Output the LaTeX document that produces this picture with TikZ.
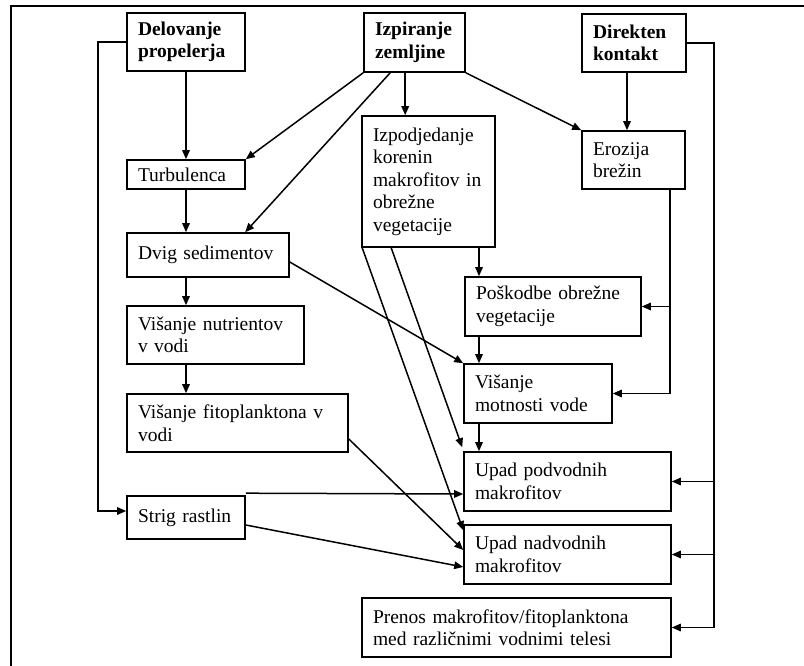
\documentclass[tikz,border=0pt]{standalone}
\usepackage{fontspec}
\setmainfont{Liberation Serif}
\usetikzlibrary{arrows.meta,calc}
\begin{document}
\begin{tikzpicture}[x=1pt,y=-1pt,
  box/.style={draw, line width=1.6pt, inner xsep=11pt, inner ysep=0pt, align=left,
    font=\fontsize{19.5}{22.5}\selectfont},
  arr/.style={line width=1.5pt, -{Triangle[length=9pt,width=7.5pt]}}]
\useasboundingbox (0,0) rectangle (804,666);
\draw[line width=2.5pt] (11,666) -- (11,6) -- (804,6);

\node[box, text width=96pt, minimum height=58pt] (del) at (186,42) {\textbf{Delovanje}\\\textbf{propelerja}};
\node[box, text width=79pt, minimum height=59pt] (izp) at (414.5,42.5) {\textbf{Izpiranje}\\\textbf{zemljine}};
\node[box, text width=82pt, minimum height=58pt] (dir) at (634,43) {\textbf{Direkten}\\\textbf{kontakt}};
\node[box, text width=96pt, minimum height=29pt] (tur) at (186,174.5) {Turbulenca};
\node[box, text width=140pt, minimum height=44pt] (dvig) at (208,255) {Dvig~sedimentov};
\node[box, text width=111pt, minimum height=131pt] (izpod) at (428.5,181.5) {Izpodjedanje\\korenin\\makrofitov~in\\obrežne\\vegetacije};
\node[box, text width=81pt, minimum height=58pt] (ero) at (633.5,160) {Erozija\\brežin};
\node[box, text width=154pt, minimum height=59pt] (posk) at (553,306.5) {Poškodbe~obrežne\\vegetacije};
\node[box, text width=155pt, minimum height=58pt] (nutr) at (215.5,335) {Višanje~nutrientov\\v~vodi};
\node[box, text width=199pt, minimum height=58pt] (fito) at (237.5,423) {Višanje~fitoplanktona~v\\vodi};
\node[box, text width=126pt, minimum height=59pt] (motn) at (538,393.5) {Višanje\\motnosti~vode};
\node[box, text width=185pt, minimum height=59pt] (podv) at (567.5,481.5) {Upad~podvodnih\\makrofitov};
\node[box, text width=96pt, minimum height=43pt] (strig) at (186,517.5) {Strig~rastlin};
\node[box, text width=185pt, minimum height=59pt] (nadv) at (567.5,554.5) {Upad~nadvodnih\\makrofitov};
\node[box, text width=287pt, minimum height=59pt] (pren) at (516.5,627.5) {Prenos~makrofitov/fitoplanktona\\med~različnimi~vodnimi~telesi};

\draw[arr] (del.south) -- (tur.north);
\draw[arr] (tur.south) -- (dvig.north -| tur.south);
\draw[arr] (dvig.south -| tur.south) -- (nutr.north -| tur.south);
\draw[arr] (nutr.south -| tur.south) -- (fito.north -| tur.south);
\draw[arr] (izp.south west) -- (tur.north east);
\draw[arr] ($(izp.south west)+(27,0)$) -- ($(dvig.north west)+(119,0)$);
\draw[arr] ($(izp.south west)+(42,0)$) -- ($(izpod.north west)+(44,0)$);
\draw[arr] (izp.south east) -- (ero.north west);
\draw[arr] ($(dir.south)+(-7,0)$) -- ($(ero.north)+(-6.5,0)$);

\coordinate (lx) at (98,511);
\draw[arr] (del.west) -| (lx) -- (lx -| strig.west);

\coordinate (rb) at (714,627.5);
\draw[arr] (dir.east) -| (rb) -- (pren.east);
\draw[arr] (podv.east -| rb) -- (podv.east);
\draw[arr] (nadv.east -| rb) -- (nadv.east);

\coordinate (eb) at (670,393.5);
\draw[arr] (ero.south -| eb) -- (eb) -- (motn.east);
\draw[arr] (posk.east -| eb) -- (posk.east);

\coordinate (cx) at (479,0);
\draw[arr] (izpod.south -| cx) -- (posk.north -| cx);
\draw[arr] (posk.south -| cx) -- (motn.north -| cx);
\draw[arr] (motn.south -| cx) -- (podv.north -| cx);

\draw[arr] ($(dvig.east)+(0,7)$) -- (motn.north west);
\draw[arr] ($(fito.east)+(0,16)$) -- ($(nadv.west)+(0,-4.5)$);
\draw[arr] ($(strig.north east)+(0,-2)$) -- ($(podv.west)+(0,12.5)$);
\draw[arr] ($(strig.east)+(0,7.5)$) -- ($(nadv.west)+(0,12.5)$);
\draw[arr] ($(izpod.south west)+(30,0)$) -- ($(podv.north west)+(-1,-4)$);
\draw[arr] ($(izpod.south west)+(1,0)$) -- ($(nadv.north west)+(0,6)$);
\end{tikzpicture}
\end{document}
